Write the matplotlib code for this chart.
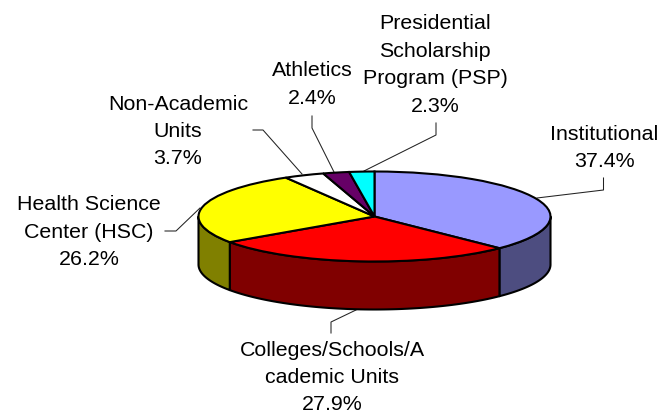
import numpy as np
import matplotlib
matplotlib.use("Agg")
import matplotlib.pyplot as plt
from matplotlib.transforms import Affine2D

categories = ["Institutional", "Colleges/Schools/A\ncademic Units",
              "Health Science\nCenter (HSC)", "Non-Academic\nUnits",
              "Athletics", "Presidential\nScholarship\nProgram (PSP)"]
values = [37.4, 27.9, 26.2, 3.7, 2.4, 2.3]
top_colors = ["#9999FF", "#FF0000", "#FFFF00", "#FFFFFF", "#660066", "#00FFFF"]
side_colors = ["#4D4D80", "#800000", "#808000", "#808080", "#330033", "#008080"]
# centre of each label block, in picture pixels
label_xy = [(604, 146.5), (332, 376), (89, 230.5), (178, 130), (312, 83), (435, 63.5)]
leaders = [[(537, 198), (603.5, 190), (603.5, 178)],
           [(356, 310), (331, 322), (331, 333)],
           [(165, 231), (176, 231), (200, 208)],
           [(253, 130), (263, 130), (302, 174)],
           [(334, 172), (312, 128), (312, 116)],
           [(364, 171), (436, 135), (436, 123)]]

W, H = 660, 413
CX, CY, RX, RY, DEPTH = 374.5, 216.5, 176, 45, 48
LINE_PX = 27.5

plt.rcParams['font.family'] = ['Liberation Sans', 'DejaVu Sans']
fig = plt.figure(figsize=(W / 100, H / 100), dpi=100)
ax = fig.add_axes([0, 0, 1, 1])
px = Affine2D().scale(1, -1).translate(0, H)

ax.pie(values, colors=top_colors, startangle=90, counterclock=False, radius=1,
       wedgeprops=dict(edgecolor="black", linewidth=1.5, zorder=5))
ax.set_aspect("auto")
ax.set_xlim(-CX / RX, (W - CX) / RX)
ax.set_ylim((CY - H) / RY, CY / RY)
ax.axis("off")

depth = DEPTH / RY
cum = np.cumsum([0] + values) / sum(values) * 360
for i, color in enumerate(side_colors):
    a0 = 90 - cum[i]      # start, math angle
    a1 = 90 - cum[i + 1]  # end, math angle (clockwise)
    hi = min(a0, 0)
    lo = max(a1, -180)
    if hi <= lo:
        continue
    t = np.radians(np.linspace(hi, lo, 80))
    x, y = np.cos(t), np.sin(t)
    ax.fill(np.r_[x, x[::-1]], np.r_[y, y[::-1] - depth], facecolor=color,
            edgecolor="black", linewidth=1.5, zorder=2, joinstyle="round")

for cat, val, (lx, ly), pts in zip(categories, values, label_xy, leaders):
    lines = f"{cat}\n{val:.1f}%".split("\n")
    for k, line in enumerate(lines):
        yy = ly + (k - (len(lines) - 1) / 2) * LINE_PX
        ax.text(lx, yy + 7, line, transform=px, ha="center", va="baseline",
                fontsize=15.4, color="black", zorder=6)
    p = np.array(pts)
    ax.plot(p[:, 0], p[:, 1], transform=px, color="#222222", linewidth=0.75,
            zorder=1, clip_on=False)

fig.savefig("out.png", dpi=100, facecolor="white")
